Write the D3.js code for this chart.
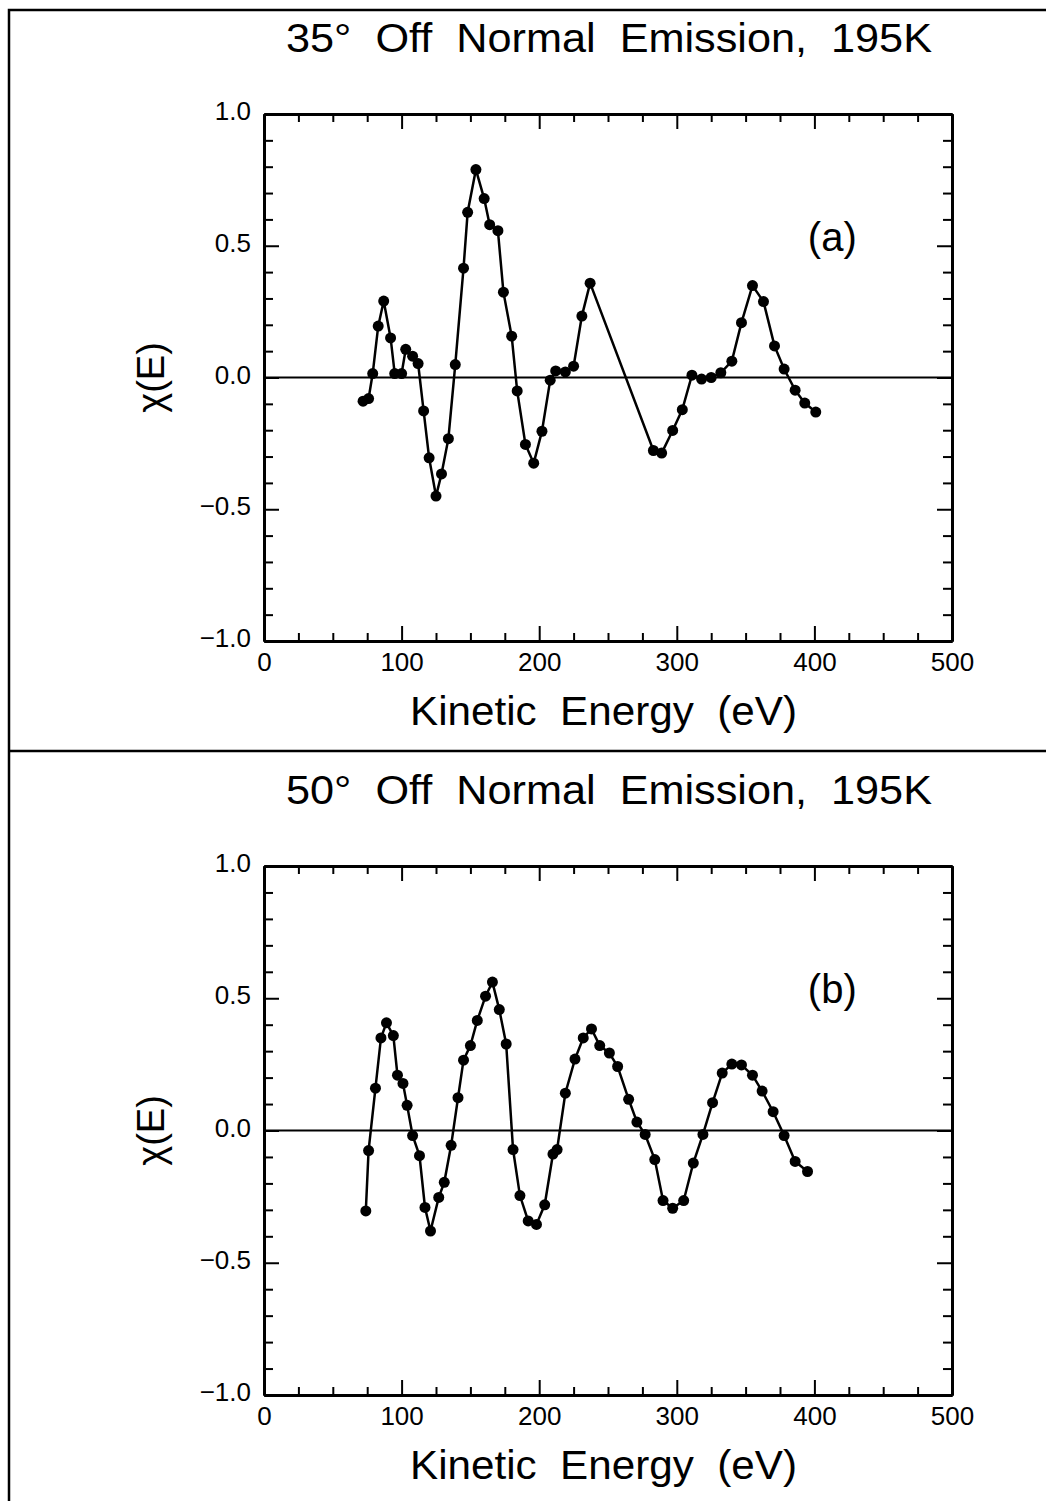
<!DOCTYPE html>
<html>
<head>
<meta charset="utf-8">
<script src="https://cdn.jsdelivr.net/npm/d3@7/dist/d3.min.js"></script>
<style>
  html, body { margin: 0; padding: 0; background: #fff; }
  svg { display: block; }
  text { font-family: "Liberation Sans", Arial, sans-serif; fill: #000; }
</style>
</head>
<body>
<script>
// ---------- data ----------
const energyA = [72,76,79,83,87,92,95,100,103,108,112,116,120,125,129,134,139,145,148,154,160,164,170,174,180,184,190,196,202,208,212,219,225,231,237,283,289,297,304,311,318,325,332,340,347,355,363,371,378,386,393,401];
const chiA = [-0.09,-0.08,0.015,0.195,0.29,0.15,0.015,0.015,0.107,0.081,0.053,-0.127,-0.305,-0.45,-0.366,-0.232,0.049,0.415,0.627,0.789,0.679,0.58,0.557,0.324,0.157,-0.051,-0.254,-0.325,-0.204,-0.01,0.025,0.021,0.043,0.233,0.358,-0.277,-0.287,-0.201,-0.122,0.009,-0.006,0,0.018,0.062,0.208,0.349,0.288,0.12,0.032,-0.048,-0.097,-0.131];

const energyB = [74,76,81,85,89,94,97,101,104,108,113,117,121,127,131,136,141,145,150,155,161,166,171,176,181,186,192,198,204,210,213,219,226,232,238,244,251,257,265,271,277,284,290,297,305,312,319,326,333,340,347,355,362,370,378,386,395];
const chiB = [-0.304,-0.076,0.16,0.35,0.407,0.359,0.209,0.178,0.095,-0.019,-0.095,-0.291,-0.38,-0.253,-0.196,-0.056,0.124,0.266,0.321,0.416,0.508,0.561,0.457,0.327,-0.072,-0.246,-0.342,-0.355,-0.281,-0.089,-0.072,0.141,0.27,0.35,0.384,0.321,0.293,0.242,0.118,0.032,-0.015,-0.11,-0.265,-0.294,-0.265,-0.123,-0.015,0.105,0.217,0.251,0.248,0.209,0.149,0.071,-0.019,-0.117,-0.155];

const xMajorTicks = [0,100,200,300,400,500];
const xMinorTicks = [25,50,75,125,150,175,225,250,275,325,350,375,425,450,475];
const yMajorTicks = [-1.0,-0.5,0.0,0.5,1.0];
const yMinorTicks = [-0.9,-0.8,-0.7,-0.6,-0.4,-0.3,-0.2,-0.1,0.1,0.2,0.3,0.4,0.6,0.7,0.8,0.9];

const titles = ["35\u00B0  Off  Normal  Emission,  195K", "50\u00B0  Off  Normal  Emission,  195K"];
const panelLabels = ["(a)", "(b)"];
const xLabel = "Kinetic  Energy  (eV)";
const yLabel = "\u03C7(E)";

// ---------- layout ----------
const W = 1046, H = 1501;
const svg = d3.select("body").append("svg").attr("width", W).attr("height", H);

// outer frame
svg.append("path")
  .attr("d", `M1046,10 H9 V1501`)
  .attr("fill", "none").attr("stroke", "#000").attr("stroke-width", 2.5);
svg.append("line").attr("x1", 9).attr("x2", 1046).attr("y1", 751).attr("y2", 751)
  .attr("stroke", "#000").attr("stroke-width", 2.5);

const panels = [
  { top: 114, bottom: 641, e: energyA, c: chiA },
  { top: 866, bottom: 1395, e: energyB, c: chiB }
];
const left = 264, right = 952;
const tickFont = "'Liberation Sans', Arial, sans-serif";

const fmtY = d => (d < 0 ? "\u2212" : "") + Math.abs(d).toFixed(1);

panels.forEach((p, i) => {
  const x = d3.scaleLinear().domain([0, 500]).range([left, right]);
  const y = d3.scaleLinear().domain([-1, 1]).range([p.bottom, p.top]);
  const g = svg.append("g");

  // axes: major + minor ticks, inward
  function addAxis(axisFn, scale, transform, majors, minors, majLen, minLen, labels, fmt) {
    const gm = g.append("g").attr("transform", transform)
      .call(axisFn(scale).tickValues(majors).tickSize(-majLen).tickSizeOuter(0)
        .tickPadding(12).tickFormat(labels ? fmt : () => ""));
    const gn = g.append("g").attr("transform", transform)
      .call(axisFn(scale).tickValues(minors).tickSize(-minLen).tickSizeOuter(0).tickFormat(() => ""));
    [gm, gn].forEach(a => {
      a.select(".domain").attr("stroke", "#000").attr("stroke-width", 3);
      a.selectAll(".tick line").attr("stroke", "#000").attr("stroke-width", 2);
    });
    gm.attr("font-size", 26).attr("font-family", tickFont);
    gm.selectAll(".tick text").attr("fill", "#000");
    return gm;
  }
  const bx = addAxis(d3.axisBottom, x, `translate(0,${p.bottom})`, xMajorTicks, xMinorTicks, 15, 8, true, d3.format("d"));
  bx.selectAll(".tick text").attr("dy", "0.71em").attr("y", 12);
  addAxis(d3.axisTop, x, `translate(0,${p.top})`, xMajorTicks, xMinorTicks, 15, 8, false);
  const ly = addAxis(d3.axisLeft, y, `translate(${left},0)`, yMajorTicks, yMinorTicks, 15, 9, true, fmtY);
  ly.selectAll(".tick text").attr("x", -13).attr("dy", "0.22em");
  addAxis(d3.axisRight, y, `translate(${right},0)`, yMajorTicks, yMinorTicks, 15, 9, false);

  // zero line
  g.append("line").attr("x1", x(0)).attr("x2", x(500)).attr("y1", y(0)).attr("y2", y(0))
    .attr("stroke", "#000").attr("stroke-width", 2);

  // data line + markers
  const pts = p.e.map((e, k) => [e, p.c[k]]);
  g.append("path").datum(pts)
    .attr("d", d3.line().x(d => x(d[0])).y(d => y(d[1])))
    .attr("fill", "none").attr("stroke", "#000").attr("stroke-width", 2.5);
  g.selectAll("circle.pt").data(pts).join("circle").attr("class", "pt")
    .attr("cx", d => x(d[0])).attr("cy", d => y(d[1])).attr("r", 5.5).attr("fill", "#000");

  // title
  g.append("text").attr("x", 286).attr("y", p.top - 62)
    .attr("font-size", 40).attr("textLength", 646).attr("lengthAdjust", "spacingAndGlyphs")
    .style("white-space", "pre").text(titles[i]);

  // x label
  g.append("text").attr("x", 410).attr("y", p.bottom + 84)
    .attr("font-size", 40).attr("textLength", 387).attr("lengthAdjust", "spacingAndGlyphs")
    .style("white-space", "pre").text(xLabel);

  // y label
  g.append("text").attr("transform", `translate(164,${y(0)}) rotate(-90)`)
    .attr("text-anchor", "middle").attr("font-size", 38).text(yLabel);

  // panel label
  g.append("text").attr("x", x(413)).attr("y", y(0.534)).attr("dy", "0.35em")
    .attr("text-anchor", "middle").attr("font-size", 40).text(panelLabels[i]);
});
</script>
</body>
</html>
